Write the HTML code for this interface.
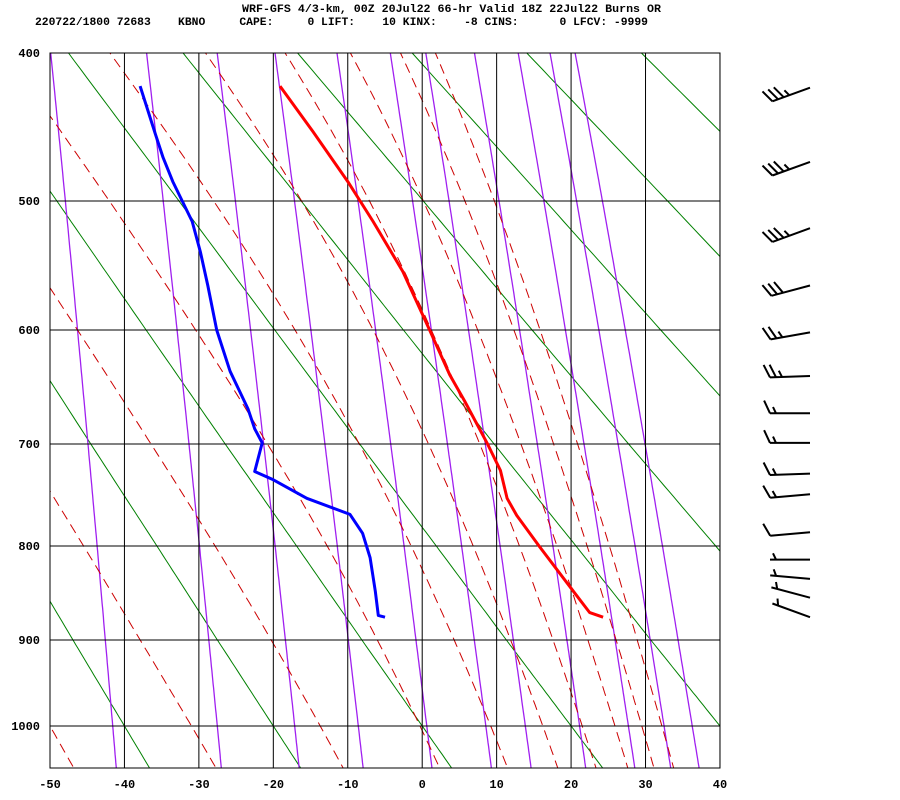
<!DOCTYPE html>
<html><head><meta charset="utf-8"><title>Skew-T Burns OR</title>
<style>
html,body{margin:0;padding:0;background:#fff;}
svg{display:block;}
text{font-family:"Liberation Mono",monospace;font-weight:bold;fill:#000;}
</style></head>
<body>
<svg id="chart" width="900" height="800" viewBox="0 0 900 800" xmlns="http://www.w3.org/2000/svg">
<text x="242" y="12" font-size="11.3" textLength="419" lengthAdjust="spacingAndGlyphs">WRF-GFS 4/3-km, 00Z 20Jul22 66-hr Valid 18Z 22Jul22 Burns OR</text>
<text x="35" y="25" font-size="11.3" textLength="613" lengthAdjust="spacingAndGlyphs" xml:space="preserve">220722/1800 72683    KBNO     CAPE:     0 LIFT:    10 KINX:    -8 CINS:      0 LFCV: -9999</text>
<defs><clipPath id="plotclip"><rect x="50" y="53" width="670" height="715"/></clipPath></defs>
<g id="bg" clip-path="url(#plotclip)"></g>
<g id="grid"></g>
<g id="prof" clip-path="url(#plotclip)"></g>
<g id="axes"></g>
<g id="barbs"></g>
</svg>
<script>
// ---- data ----
const tempP = [421,451,486,515,553,600,638,661,699,725,752,769,801,847,870,875];
const tempT = [-19.1,-14.7,-10.0,-6.6,-2.6,1.0,3.7,5.7,8.7,10.5,11.4,12.7,15.8,20.3,22.5,24.3];
const dewP = [421,452,469,486,515,538,564,600,635,668,686,699,726,734,752,768,787,812,847,873,875];
const dewT = [-37.9,-35.9,-34.8,-33.5,-30.9,-29.8,-28.8,-27.6,-25.8,-23.4,-22.5,-21.5,-22.5,-20.0,-15.5,-9.7,-8.0,-7.0,-6.3,-5.9,-5.0];
const windP = [422,472,520,564,602,639,672,699,728,748,786,814,834,854,875];
const windDir = [250,250,250,255,260,268,270,270,268,265,265,270,275,285,290];
const windSpd = [35,35,35,30,25,25,15,15,15,15,10,5,5,5,5];
const pressTicks = [400,500,600,700,800,900,1000];
const tempTicks = [-50,-40,-30,-20,-10,0,10,20,30,40];
const dryTheta = [-80,-60,-40,-20,0,20,40,60,80,100,120,140,160];
const mixRatios = [0.1,0.4,1,2,4,7,10,16,24,32,40];
const moistT1000 = [-50,-31,-13.7,-0.3,9.2,16.2,21.5,25.9,29.5,32.2];

// ---- scales ----
const K = 0.2857;
const knotP = [400,500,600,700,800,900,1000];
const knotY = [53,201,330,444,546,640,726];
function yP(p){
  const q = Math.pow(p,K);
  let i = 0;
  while(i < knotP.length-2 && p > knotP[i+1]) i++;
  const q0 = Math.pow(knotP[i],K), q1 = Math.pow(knotP[i+1],K);
  return knotY[i] + (q-q0)/(q1-q0)*(knotY[i+1]-knotY[i]);
}
function xT(t){ return 50 + (t+50)*7.444; }
const NS = "http://www.w3.org/2000/svg";
function mk(tag, attrs, parent){
  const e = document.createElementNS(NS, tag);
  for(const k in attrs) e.setAttribute(k, attrs[k]);
  parent.appendChild(e); return e;
}
function es(tc){ return 6.112*Math.exp(17.67*tc/(tc+243.5)); }
function pathFrom(pts){ return pts.map((q,i)=>(i?'L':'M')+q[0].toFixed(1)+','+q[1].toFixed(1)).join(''); }
const pLevels = []; for(let p=380;p<=1080;p+=5) pLevels.push(p);

const bg = document.getElementById('bg');
// dry adiabats
dryTheta.forEach(th=>{
  const pts = pLevels.map(p=>[xT((th+273.15)*Math.pow(p/1000,K)-273.15), yP(p)]);
  const el = mk('path',{d:pathFrom(pts),stroke:'#008000','stroke-width':1,fill:'none'},bg);
  
  
});
// mixing ratio lines
mixRatios.forEach(w=>{
  const pts = pLevels.map(p=>{
    const e = w*p/(622+w); const l = Math.log(e/6.112);
    return [xT(243.5*l/(17.67-l)), yP(p)];
  });
  const el = mk('path',{d:pathFrom(pts),stroke:'#a020f0','stroke-width':1.3,fill:'none'},bg);
  
  
});
// moist adiabats
function thetaE(tc,p){
  const T = tc+273.15; const e = es(tc); const ws = 0.622*e/(p-e);
  return T*Math.pow(1000/p,K)*Math.exp(2.5e6*ws/(1005*T));
}
moistT1000.forEach(t0=>{
  const target = thetaE(t0,1000);
  const pts = pLevels.map(p=>{
    let lo=-120, hi=60;
    for(let k=0;k<50;k++){ const m=(lo+hi)/2; if(thetaE(m,p)>target) hi=m; else lo=m; }
    return [xT((lo+hi)/2), yP(p)];
  });
  const el = mk('path',{d:pathFrom(pts),stroke:'#cc0000','stroke-width':1,fill:'none','stroke-dasharray':'10,6'},bg);
  
  
});

// grid + axes
const grid = document.getElementById('grid');
const axes = document.getElementById('axes');
tempTicks.forEach(t=>{
  const x = xT(t);
  const gl = mk('line',{x1:x,y1:53,x2:x,y2:768,stroke:'#000','stroke-width':1},grid);
  
  
  const lb = mk('text',{x:x,y:788,'font-size':12,'text-anchor':'middle'},axes);
  lb.textContent = t;
  
  
});
pressTicks.forEach(p=>{
  const y = yP(p);
  const gl = mk('line',{x1:50,y1:y,x2:720,y2:y,stroke:'#000','stroke-width':1},grid);
  
  
  const lb = mk('text',{x:40,y:y+4,'font-size':12,'text-anchor':'end'},axes);
  lb.textContent = p;
  
  
});
const frame = mk('rect',{x:50,y:53,width:670,height:715,fill:'none',stroke:'#000','stroke-width':1},grid);



// profiles
const prof = document.getElementById('prof');
const tLine = mk('path',{d:pathFrom(tempP.map((p,i)=>[xT(tempT[i]),yP(p)])),stroke:'#ff0000','stroke-width':3,fill:'none','stroke-linejoin':'round'},prof);


const dLine = mk('path',{d:pathFrom(dewP.map((p,i)=>[xT(dewT[i]),yP(p)])),stroke:'#0000ff','stroke-width':3,fill:'none','stroke-linejoin':'round'},prof);



// wind barbs
const barbs = document.getElementById('barbs');
windP.forEach((p,i)=>{
  const x0 = 810, y0 = yP(p);
  const a = windDir[i]*Math.PI/180;
  const ux = Math.sin(a), uy = -Math.cos(a);
  const L = 40;
  const ex = x0+ux*L, ey = y0+uy*L;
  const th = 65*Math.PI/180;
  const bx = ux*Math.cos(th) - uy*Math.sin(th);
  const by = ux*Math.sin(th) + uy*Math.cos(th);
  let d = 'M'+x0+','+y0.toFixed(1)+'L'+ex.toFixed(1)+','+ey.toFixed(1);
  let s = windSpd[i], k = 0;
  const full = Math.floor(s/10), half = (s%10)>=5 ? 1 : 0;
  if(full===0 && half) k = 1;
  for(let f=0; f<full; f++,k++){
    const sx = ex-ux*6*k, sy = ey-uy*6*k;
    d += 'M'+sx.toFixed(1)+','+sy.toFixed(1)+'l'+(bx*14).toFixed(1)+','+(by*14).toFixed(1);
  }
  if(half){
    const sx = ex-ux*6*k, sy = ey-uy*6*k;
    d += 'M'+sx.toFixed(1)+','+sy.toFixed(1)+'l'+(bx*7).toFixed(1)+','+(by*7).toFixed(1);
  }
  const el = mk('path',{d:d,stroke:'#000','stroke-width':2,fill:'none'},barbs);
  
  
});
</script>
</body></html>
